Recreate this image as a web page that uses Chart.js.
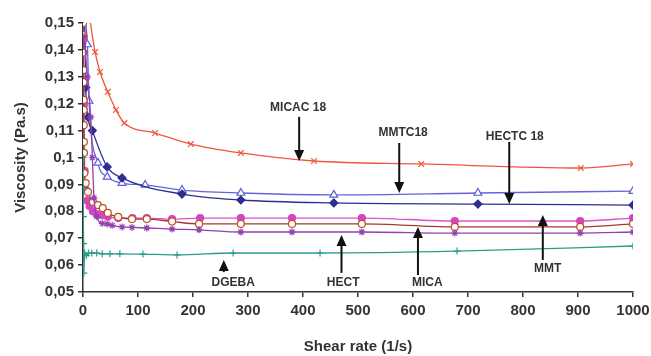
<!DOCTYPE html>
<html>
<head>
<meta charset="utf-8">
<script src="https://cdn.jsdelivr.net/npm/chart.js@4.4.0/dist/chart.umd.min.js"></script>
<style>
  html, body { margin: 0; padding: 0; background: #fff; }
  #wrap { width: 651px; height: 356px; }
</style>
</head>
<body>
<div id="wrap"><canvas id="chart"></canvas></div>
<script>
// shear rate (1/s) / viscosity (Pa.s)
const micac18_x = [12, 22, 31, 45, 60, 75, 131, 196, 287, 420, 615, 905, 1000];
const micac18_y = [0.152, 0.1392, 0.1318, 0.1244, 0.1177, 0.1128, 0.1091, 0.105, 0.1017, 0.0987, 0.0976, 0.0961, 0.0976];

const mmtc18_x = [4, 8, 11, 27, 44, 71, 113, 180, 287, 456, 718, 1000];
const mmtc18_y = [0.152, 0.142, 0.121, 0.098, 0.0928, 0.0905, 0.0898, 0.0879, 0.0868, 0.0861, 0.0868, 0.0875];

const hectc18_x = [3, 5, 9, 17, 44, 71, 180, 287, 456, 718, 1000];
const hectc18_y = [0.152, 0.126, 0.115, 0.110, 0.0965, 0.0924, 0.0864, 0.0842, 0.0831, 0.0827, 0.0823];

const mmt_x = [1, 2, 3, 5, 8, 12, 18, 25, 35, 45, 64, 90, 116, 162, 213, 287, 380, 507, 676, 904, 1000];
const mmt_y = [0.144, 0.12, 0.095, 0.088, 0.084, 0.082, 0.080, 0.079, 0.0785, 0.078, 0.0775, 0.0775, 0.0775, 0.0771, 0.0775, 0.0775, 0.0775, 0.0775, 0.0764, 0.0764, 0.0775];

const mica_x = [0.1, 0.2, 0.4, 0.6, 0.8, 1.0, 1.2, 1.4, 1.6, 1.8, 2.5, 5, 9, 18, 27, 36, 45, 64, 89, 116, 162, 211, 287, 380, 507, 676, 904, 1000];
const mica_y = [0.15, 0.1455, 0.139, 0.1325, 0.128, 0.1214, 0.1177, 0.112, 0.1058, 0.1017, 0.0942, 0.0905, 0.0872, 0.0835, 0.0823, 0.0812, 0.0794, 0.0779, 0.0771, 0.0771, 0.0762, 0.0753, 0.0753, 0.0753, 0.0753, 0.0742, 0.0742, 0.0753];

const hect_x = [2, 8, 14, 17, 20, 25, 35, 44, 53, 71, 89, 116, 162, 211, 287, 380, 507, 676, 904, 1000];
const hect_y = [0.145, 0.13, 0.115, 0.10, 0.085, 0.078, 0.0755, 0.0753, 0.0748, 0.0742, 0.074, 0.0738, 0.0734, 0.0731, 0.0723, 0.0723, 0.0723, 0.0719, 0.0719, 0.0723];

const dgeba_x = [0, 0.3, 0.6, 1, 1.5, 3, 6, 10, 16, 25, 35, 49, 67, 109, 171, 273, 431, 680, 1000];
const dgeba_y = [0.10, 0.088, 0.078, 0.068, 0.057, 0.0645, 0.0635, 0.0645, 0.0645, 0.0645, 0.0642, 0.0642, 0.0642, 0.0641, 0.0638, 0.0645, 0.0645, 0.0652, 0.0671];

// labels with arrows: text position, arrow x, arrow tail y, arrow tip y (data units)
const note_text = ['MICAC 18', 'MMTC18', 'HECTC 18', 'MMT', 'MICA', 'HECT', 'DGEBA'];
const note_x = [391, 582, 785, 845, 626, 473, 273];
const note_y = [0.1184, 0.1091, 0.1076, 0.0586, 0.0533, 0.0533, 0.0533];
const arrow_x = [393, 575, 775, 836, 609, 470, 256];
const arrow_from = [0.1151, 0.1054, 0.1058, 0.0619, 0.0563, 0.0571, 0.0574];
const arrow_to = [0.0987, 0.0868, 0.0827, 0.0786, 0.0742, 0.0712, 0.0619];

function pts(xs, ys) {
    return xs.map((x, i) => ({ x: x, y: ys[i] }));
}

function series(label, xs, ys, line, style, fill, edge, radius) {
    return {
        label: label,
        data: pts(xs, ys),
        borderColor: line,
        borderWidth: 1.3,
        pointStyle: style,
        pointRadius: radius,
        pointBackgroundColor: fill,
        pointBorderColor: edge,
        pointBorderWidth: 1.2,
        cubicInterpolationMode: 'monotone',
        fill: false
    };
}

const notes = {
    id: 'notes',
    afterDatasetsDraw(chart) {
        const ctx = chart.ctx;
        const xs = chart.scales.x;
        const ys = chart.scales.y;
        ctx.save();
        ctx.fillStyle = '#333';
        ctx.font = 'bold 12px Arial, "Liberation Sans", sans-serif';
        ctx.textAlign = 'center';
        ctx.textBaseline = 'middle';
        note_text.forEach((t, i) => {
            ctx.fillText(t, xs.getPixelForValue(note_x[i]), ys.getPixelForValue(note_y[i]));
        });
        ctx.strokeStyle = '#111';
        ctx.fillStyle = '#111';
        ctx.lineWidth = 2;
        arrow_x.forEach((ax, i) => {
            const px = xs.getPixelForValue(ax);
            const y0 = ys.getPixelForValue(arrow_from[i]);
            const y1 = ys.getPixelForValue(arrow_to[i]);
            const dir = y1 > y0 ? 1 : -1;
            const headLen = 11;
            ctx.beginPath();
            ctx.moveTo(px, y0);
            ctx.lineTo(px, y1 - dir * headLen);
            ctx.stroke();
            ctx.beginPath();
            ctx.moveTo(px, y1);
            ctx.lineTo(px - 5, y1 - dir * headLen);
            ctx.lineTo(px + 5, y1 - dir * headLen);
            ctx.closePath();
            ctx.fill();
        });
        ctx.restore();
    }
};

const tickFont = { family: 'Arial, "Liberation Sans", sans-serif', size: 15, weight: 'bold' };

new Chart(document.getElementById('chart'), {
    type: 'line',
    data: {
        datasets: [
            series('DGEBA', dgeba_x, dgeba_y, '#2b9c8c', 'cross', '#2b9c8c', '#2b9c8c', 3.5),
            series('HECT', hect_x, hect_y, '#9440b0', 'star', '#9440b0', '#9440b0', 3.5),
            series('MICA', mica_x, mica_y, '#a63a2a', 'circle', '#ffffff', '#c0501e', 3.5),
            series('MMT', mmt_x, mmt_y, '#da55c8', 'circle', '#d445c4', '#d445c4', 3.5),
            series('HECTC18', hectc18_x, hectc18_y, '#2c2f8f', 'rectRot', '#2c2f8f', '#2c2f8f', 4),
            series('MMTC18', mmtc18_x, mmtc18_y, '#6266d8', 'triangle', '#ffffff', '#5a5ed6', 4.5),
            series('MICAC18', micac18_x, micac18_y, '#f2543c', 'crossRot', '#f2543c', '#f2543c', 4)
        ]
    },
    options: {
        responsive: true,
        maintainAspectRatio: false,
        animation: false,
        events: [],
        layout: { padding: { top: 23, right: 18, left: 0, bottom: 0 } },
        plugins: {
            legend: { display: false },
            tooltip: { enabled: false }
        },
        scales: {
            x: {
                type: 'linear',
                min: 0,
                max: 1000,
                afterFit: (s) => { s.height = 64; s.paddingLeft = 0; s.paddingRight = 0; },
                ticks: { stepSize: 100, color: '#333', font: tickFont, padding: 5, maxRotation: 0, callback: (v) => String(v) },
                grid: { display: true, drawOnChartArea: false, tickLength: 5, color: '#333', lineWidth: 1.5 },
                border: { color: '#333', width: 1.5 },
                title: { display: true, text: 'Shear rate (1/s)', color: '#333', font: tickFont, padding: { top: 8, bottom: 0 } }
            },
            y: {
                type: 'linear',
                min: 0.05,
                max: 0.15,
                afterFit: (s) => { s.width = 83; s.paddingTop = 0; s.paddingBottom = 0; },
                ticks: {
                    stepSize: 0.01,
                    color: '#333',
                    font: tickFont,
                    padding: 4,
                    callback: (v) => String(Number(v.toFixed(2))).replace('.', ',')
                },
                grid: { display: true, drawOnChartArea: false, tickLength: 5, color: '#333', lineWidth: 1.5 },
                border: { color: '#333', width: 1.5 },
                title: { display: true, text: 'Viscosity (Pa.s)', color: '#333', font: tickFont, padding: { top: 12, bottom: 0 } }
            }
        }
    },
    plugins: [notes]
});
</script>
</body>
</html>
